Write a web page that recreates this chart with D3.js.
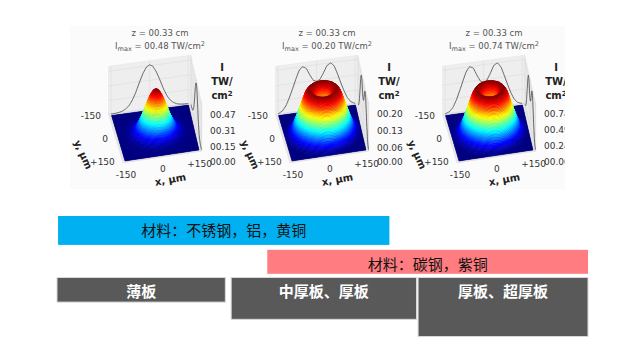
<!DOCTYPE html>
<html>
<head>
<meta charset="utf-8">
<script src="https://cdn.jsdelivr.net/npm/d3@7"></script>
<style>
html, body { margin: 0; padding: 0; background: #fff; }
svg { display: block; }
text { font-family: "DejaVu Sans", sans-serif; }
</style>
</head>
<body>
<svg width="640" height="360"></svg>
<script>
// radial beam profiles, r in um, I in TW/cm2
var radii   = [0, 12, 25, 40, 55, 68, 80, 92, 105, 118, 132, 150];
var beamA   = [0.48, 0.46, 0.40, 0.30, 0.19, 0.115, 0.065, 0.035, 0.015, 0.006, 0.001, 0];
var beamB   = [0.125, 0.13, 0.155, 0.19, 0.20, 0.185, 0.15, 0.11, 0.07, 0.035, 0.012, 0];
var beamC   = [0.44, 0.47, 0.57, 0.71, 0.74, 0.66, 0.52, 0.37, 0.22, 0.10, 0.03, 0];

var titleZ  = ["00.33", "00.33", "00.33"];
var titleI  = ["00.48", "00.20", "00.74"];
var zTicks  = [[0.47, 0.31, 0.15, 0], [0.20, 0.13, 0.06, 0], [0.74, 0.49, 0.24, 0]];
var zLabels = [["00.47", "00.31", "00.15", "00.00"], ["00.20", "00.13", "00.06", "00.00"], ["00.74", "00.49", "00.24", "00.00"]];
var zMax    = [0.48, 0.20, 0.74];
var xyTicks = [-150, 0, 150];
var xyLabels = ["-150", "0", "+150"];

// material / plate bars, in percent of the band
var barNames  = ["材料：不锈钢，铝，黄铜", "材料：碳钢，紫铜", "薄板", "中厚板、厚板", "厚板、超厚板"];
var barStart  = [0.2, 39.6, 0, 32.8, 68];
var barEnd    = [62.6, 100, 31.7, 67.7, 100];
var barTop    = [0, 27.5, 50, 50, 50];
var barBottom = [23.5, 47, 70, 84, 98];
var barKinds  = ["blue", "red", "dark", "dark", "dark"];

var svg = d3.select("svg");
var beams = [beamA, beamB, beamC];
var panelDx = [0, 167, 334];

svg.append("defs").append("clipPath").attr("id", "plots")
    .append("rect").attr("x", 70).attr("y", 26).attr("width", 495).attr("height", 163);

var plots = svg.append("g").attr("clip-path", "url(#plots)");
plots.append("rect").attr("x", 70).attr("y", 26).attr("width", 495).attr("height", 163).attr("fill", "#fbfbfb");

//--------------------------PROJECTION------------------------------------------
// floor corners of the first panel for x, y = +-150
var BL = [111.5, 115.5], BR = [188.5, 105], FR = [199, 150], FL = [125, 161];
var u = d3.scaleLinear().domain([-150, 150]).range([0, 1]);

function project(x, y, px) {
    var a = u(x), b = u(y);
    var sx = (1 - a) * (1 - b) * BL[0] + a * (1 - b) * BR[0] + a * b * FR[0] + (1 - a) * b * FL[0];
    var sy = (1 - a) * (1 - b) * BL[1] + a * (1 - b) * BR[1] + a * b * FR[1] + (1 - a) * b * FL[1];
    return [sx, sy - px];
}

var jet = d3.scaleLinear()
    .domain(d3.range(9).map(function(d) { return d / 8; }))
    .range(["#00007f", "#0000ff", "#007fff", "#00ffff", "#7fff7f", "#ffff00", "#ff7f00", "#ff0000", "#7f0000"]);

var pl = d3.line();

//--------------------------PANELS----------------------------------------------
beams.forEach(function(beam, p) {
    var g = plots.append("g").attr("transform", "translate(" + panelDx[p] + ",0)");
    var profile = d3.scaleLinear().domain(radii).range(beam).clamp(true);
    var height = d3.scaleLinear().domain([0, zMax[p]]).range([0, 44]);

    // panes
    var E = 160, top = 48;
    var poly = function(pts) { return pl(pts) + "Z"; };
    g.append("path").attr("fill", "#eeeeee").attr("stroke", "#e4e4e4").attr("stroke-width", 0.5)
        .attr("d", poly([project(-E, -E, top), project(E, -E, top), project(E, -E, 0), project(-E, -E, 0)]));
    g.append("path").attr("fill", "#e9e9e9").attr("stroke", "#e4e4e4").attr("stroke-width", 0.5)
        .attr("d", poly([project(E, -E, top), project(E, E, top), project(E, E, 0), project(E, -E, 0)]));
    g.append("path").attr("fill", "#e6e6e6").attr("stroke", "#dddddd").attr("stroke-width", 0.5)
        .attr("d", poly([project(-E, -E, 0), project(E, -E, 0), project(E, E, 0), project(-E, E, 0)]));

    // wall grid lines
    xyTicks.forEach(function(t) {
        g.append("path").attr("fill", "none").attr("stroke", "#dcdcdc").attr("stroke-width", 0.6)
            .attr("d", pl([project(t, -E, top), project(t, -E, 0)]));
        g.append("path").attr("fill", "none").attr("stroke", "#dcdcdc").attr("stroke-width", 0.6)
            .attr("d", pl([project(E, t, top), project(E, t, 0)]));
    });
    zTicks[p].forEach(function(t) {
        g.append("path").attr("fill", "none").attr("stroke", "#dcdcdc").attr("stroke-width", 0.6)
            .attr("d", pl([project(-E, -E, height(t)), project(E, -E, height(t)), project(E, E, height(t))]));
    });

    // slices of the beam on the walls
    var along = d3.range(-150, 151, 3);
    g.append("path").attr("fill", "none").attr("stroke", "#444").attr("stroke-width", 0.8)
        .attr("d", pl(along.map(function(s) { return project(s, -E, height(profile(Math.abs(s)))); })));
    g.append("path").attr("fill", "none").attr("stroke", "#444").attr("stroke-width", 0.8)
        .attr("d", pl(along.map(function(s) { return project(E, s, height(profile(Math.abs(s)))); })));

    // surface cells, back to front
    var step = 300 / 70;
    var cells = [];
    d3.range(70).forEach(function(j) {
        d3.range(70).forEach(function(i) {
            cells.push({x: -150 + i * step, y: -150 + j * step});
        });
    });
    cells.sort(function(a, b) {
        return project(a.x + step / 2, a.y + step / 2, 0)[1] - project(b.x + step / 2, b.y + step / 2, 0)[1];
    });
    var I = function(x, y) { return profile(Math.sqrt(x * x + y * y)); };
    g.append("g").selectAll("path").data(cells).enter().append("path")
        .attr("d", function(d) {
            return poly([
                project(d.x, d.y, height(I(d.x, d.y))),
                project(d.x + step, d.y, height(I(d.x + step, d.y))),
                project(d.x + step, d.y + step, height(I(d.x + step, d.y + step))),
                project(d.x, d.y + step, height(I(d.x, d.y + step)))
            ]);
        })
        .each(function(d) {
            var c = jet(I(d.x + step / 2, d.y + step / 2) / zMax[p]);
            d3.select(this).attr("fill", c).attr("stroke", c).attr("stroke-width", 0.5);
        });

    // titles
    g.append("text").attr("x", 160).attr("y", 36).attr("text-anchor", "middle")
        .attr("font-size", 8.5).attr("fill", "#555")
        .text("z = " + titleZ[p] + " cm");
    var t2 = g.append("text").attr("x", 160).attr("y", 49).attr("text-anchor", "middle")
        .attr("font-size", 8.5).attr("fill", "#555");
    t2.append("tspan").text("I");
    t2.append("tspan").attr("font-size", 6.5).attr("dy", 2).text("max");
    t2.append("tspan").attr("dy", -2).text(" = " + titleI[p] + " TW/cm");
    t2.append("tspan").attr("font-size", 6.5).attr("dy", -3).text("2");

    // z title
    var zt = g.append("text").attr("font-size", 10).attr("font-weight", "bold")
        .attr("fill", "#222").attr("text-anchor", "middle");
    zt.append("tspan").attr("x", 222).attr("y", 71).text("I");
    zt.append("tspan").attr("x", 222).attr("y", 85).text("TW/");
    var cm = zt.append("tspan").attr("x", 222).attr("y", 99).text("cm");
    zt.append("tspan").attr("font-size", 7).attr("dy", -3).text("2");

    // z ticks
    var zy = d3.scaleLinear().domain([0, zMax[p]]).range([165, 117]);
    g.selectAll(".ztick").data(zTicks[p]).enter().append("text")
        .attr("class", "ztick").attr("x", 210).attr("y", function(d) { return zy(d); })
        .attr("font-size", 9).attr("fill", "#333")
        .text(function(d, i) { return zLabels[p][i]; });

    // x, y ticks
    g.selectAll(".xtick").data(xyTicks).enter().append("text")
        .attr("class", "xtick").attr("text-anchor", "middle")
        .attr("x", function(d) { return project(d, 195, 0)[0] - 1; })
        .attr("y", function(d) { return project(d, 195, 0)[1] + 10; })
        .attr("font-size", 9).attr("fill", "#333")
        .text(function(d, i) { return xyLabels[i]; });
    g.selectAll(".ytick").data(xyTicks).enter().append("text")
        .attr("class", "ytick").attr("text-anchor", "end")
        .attr("x", function(d) { return project(-175, d, 0)[0] - 4; })
        .attr("y", function(d) { return project(-175, d, 0)[1] + 3; })
        .attr("font-size", 9).attr("fill", "#333")
        .text(function(d, i) { return xyLabels[i]; });

    g.append("text").attr("transform", "translate(171,183) rotate(-10)")
        .attr("text-anchor", "middle").attr("font-size", 10).attr("font-weight", "bold")
        .attr("fill", "#222").text("x, µm");
    g.append("text").attr("transform", "translate(80,156) rotate(66)")
        .attr("text-anchor", "middle").attr("font-size", 10).attr("font-weight", "bold")
        .attr("fill", "#222").text("y, µm");
});

//--------------------------BARS------------------------------------------------
var bx = d3.scaleLinear().domain([0, 100]).range([57, 588]);
var by = d3.scaleLinear().domain([0, 100]).range([216, 339]);
var fills = {blue: "#00b0f0", red: "#ff7c80", dark: "#595959"};

svg.selectAll(".bar").data(barNames).enter().append("rect")
    .attr("class", "bar")
    .attr("x", function(d, i) { return bx(barStart[i]); })
    .attr("y", function(d, i) { return by(barTop[i]); })
    .attr("width", function(d, i) { return bx(barEnd[i]) - bx(barStart[i]); })
    .attr("height", function(d, i) { return by(barBottom[i]) - by(barTop[i]); })
    .attr("fill", function(d, i) { return fills[barKinds[i]]; })
    .attr("stroke", function(d, i) { return barKinds[i] === "dark" ? "#d9d9d9" : "none"; });

svg.selectAll(".barlabel").data(barNames).enter().append("text")
    .attr("class", "barlabel")
    .attr("x", function(d, i) { return (bx(barStart[i]) + bx(barEnd[i])) / 2; })
    .attr("y", function(d, i) { return by(barTop[i]) + (barKinds[i] === "dark" ? 19 : 20); })
    .attr("text-anchor", "middle")
    .attr("font-size", 15)
    .style("font-family", '"Noto Sans CJK SC"')
    .attr("font-weight", function(d, i) { return barKinds[i] === "dark" ? "bold" : "normal"; })
    .attr("fill", function(d, i) { return barKinds[i] === "dark" ? "#fff" : "#111"; })
    .text(function(d) { return d; });
</script>
</body>
</html>
